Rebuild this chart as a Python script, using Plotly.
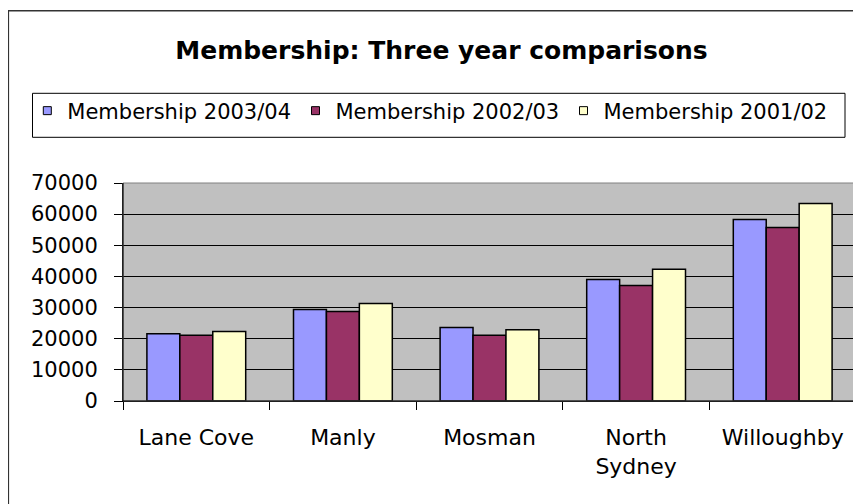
import plotly.graph_objects as go

categories = ["Lane Cove", "Manly", "Mosman", "North<br>Sydney", "Willoughby"]
series_names = ["Membership 2003/04", "Membership 2002/03", "Membership 2001/02"]
m_2003_04 = [21600, 29400, 23600, 39000, 58300]
m_2002_03 = [21100, 28700, 21100, 37100, 55700]
m_2001_02 = [22300, 31300, 22900, 42300, 63400]
y_ticks = [0, 10000, 20000, 30000, 40000, 50000, 60000, 70000]

colors = ["#9999FF", "#993366", "#FFFFCC"]
FONT = "DejaVu Sans"

fig = go.Figure()
for name, vals, col in zip(series_names, [m_2003_04, m_2002_03, m_2001_02], colors):
    fig.add_trace(go.Bar(
        x=categories, y=vals, name=name, showlegend=False,
        marker=dict(color=col, line=dict(color="black", width=1.5)),
    ))

legend_ids = ["legend", "legend2", "legend3"]
for name, col, lg in zip(series_names, colors, legend_ids):
    fig.add_trace(go.Scatter(
        x=[None], y=[None], mode="markers", name=name, legend=lg,
        marker=dict(symbol="square", size=8, color=col, line=dict(color="black", width=1)),
    ))

# page has an 8px body margin: figure coordinates = page coordinates - 8
OFF = 8
W, H = 853, 496
L, R, T, B = 115, 5, 175, 103
pw, ph = W - L - R, H - T - B

def px(x_page):
    return (x_page - OFF - L) / pw

def py(y_page):
    return (H - B - (y_page - OFF)) / ph

sym_centers = [46.3, 314.5, 582.5]
leg_common = dict(orientation="h", xanchor="left", yanchor="middle", y=py(111),
                  font=dict(family=FONT, size=21, color="black"),
                  bgcolor="rgba(0,0,0,0)", borderwidth=0)
layout_legends = {}
for lg, cx in zip(legend_ids, sym_centers):
    layout_legends[lg] = dict(x=px(cx - 19), **leg_common)

fig.update_layout(
    width=W, height=H,
    margin=dict(l=L, r=R, t=T, b=B),
    paper_bgcolor="white",
    plot_bgcolor="#C0C0C0",
    barmode="group",
    bargap=0.326,
    bargroupgap=0,
    font=dict(family=FONT, color="black"),
    title=dict(text="<b>Membership: Three year comparisons</b>",
               x=(441.5 - OFF) / W, xref="container", xanchor="center",
               y=1 - (50 - OFF) / H, yref="container", yanchor="middle",
               font=dict(family=FONT, size=25, color="black")),
    xaxis=dict(
        type="category", showgrid=False, showline=True, linecolor="black", linewidth=1,
        ticks="outside", tickson="boundaries", ticklen=8, tickcolor="black",
        tickfont=dict(family=FONT, size=22, color="black"),
        ticklabelstandoff=17,
    ),
    yaxis=dict(
        range=[0, 70000], tickvals=y_ticks, tickformat="d",
        showgrid=True, gridcolor="black", gridwidth=1, zeroline=False,
        showline=True, linecolor="black", linewidth=1,
        ticks="outside", ticklen=8, tickcolor="black",
        tickfont=dict(family=FONT, size=21, color="black"),
        ticklabelstandoff=12,
    ),
    shapes=[
        dict(type="rect", xref="paper", yref="paper", x0=0, x1=1, y0=0, y1=1,
             line=dict(color="#808080", width=1), layer="above"),
        dict(type="line", xref="paper", yref="paper", x0=0, x1=0, y0=0, y1=1,
             line=dict(color="black", width=1), layer="above"),
        dict(type="line", xref="paper", yref="paper", x0=0, x1=1, y0=0, y1=0,
             line=dict(color="black", width=1), layer="above"),
        dict(type="rect", xref="paper", yref="paper",
             x0=px(32.5), x1=px(845), y0=py(137.3), y1=py(93.3),
             line=dict(color="black", width=1), layer="above"),
        dict(type="rect", xref="paper", yref="paper",
             x0=px(8.3), x1=px(900), y0=py(560), y1=py(10.7),
             line=dict(color="#333333", width=1.6), layer="above"),
    ],
    **layout_legends,
)

fig.write_html("out.html")
